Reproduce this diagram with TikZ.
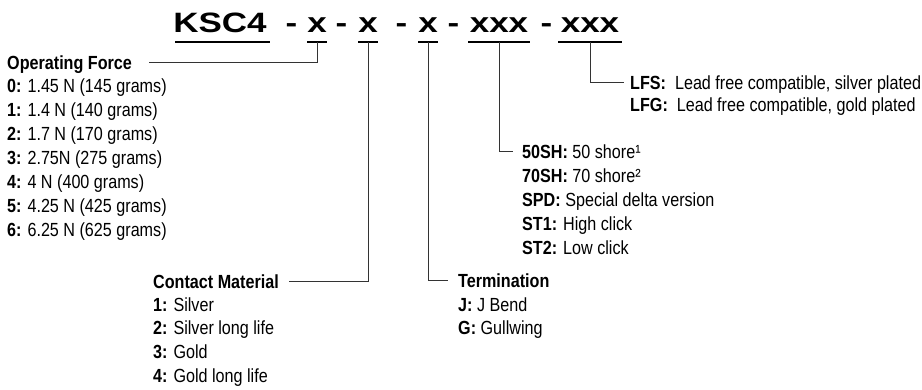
\documentclass[tikz,border=0pt]{standalone}
\usepackage{fontspec}
\setmainfont{Liberation Sans}[FakeStretch=0.85]
\newfontfamily\titlefont{Liberation Sans}[FakeStretch=1.25]
\begin{document}
\begin{tikzpicture}[x=1pt,y=-1pt]
\tikzset{
  lbl/.style={anchor=base west, inner sep=0pt, text height=13.6pt, text depth=0pt, font=\fontsize{19}{22}\selectfont},
  ttl/.style={anchor=base, inner sep=0pt, font=\titlefont\bfseries\fontsize{28}{30}\selectfont},
  conn/.style={line width=0.8pt, draw=black!80},
  uline/.style={line width=1.3pt}
}
\useasboundingbox (0,0) rectangle (922,390);
% title
\node[ttl] (tk) at (220,33) {KSC4};
\node[ttl] (d1) at (291.5,33) {-};
\node[ttl] (tx1) at (317,33) {x};
\node[ttl] (d2) at (341.5,33) {-};
\node[ttl] (tx2) at (368,33) {x};
\node[ttl] (d3) at (401.5,33) {-};
\node[ttl] (tx3) at (428,33) {x};
\node[ttl] (d4) at (453.5,33) {-};
\node[ttl] (txa) at (499,33) {xxx};
\node[ttl] (d5) at (546.5,33) {-};
\node[ttl] (txb) at (590,33) {xxx};
% underlines
\draw[uline] ([xshift=-45pt,yshift=-9pt]tk.base) -- ([xshift=50pt,yshift=-9pt]tk.base);
\draw[uline] ([xshift=-10pt,yshift=-9pt]tx1.base) -- ([xshift=10pt,yshift=-9pt]tx1.base);
\draw[uline] ([xshift=-10pt,yshift=-9pt]tx2.base) -- ([xshift=10pt,yshift=-9pt]tx2.base);
\draw[uline] ([xshift=-10pt,yshift=-9pt]tx3.base) -- ([xshift=10pt,yshift=-9pt]tx3.base);
\draw[uline] ([xshift=-31pt,yshift=-9pt]txa.base) -- ([xshift=31pt,yshift=-9pt]txa.base);
\draw[uline] ([xshift=-32pt,yshift=-9pt]txb.base) -- ([xshift=32pt,yshift=-9pt]txb.base);
% Operating force
\node[lbl] (of) at (7,69.5) {\textbf{Operating Force}};
\node[lbl] (of0) at (7,92.5) {\textbf{0:} 1.45 N (145 grams)};
\node[lbl] (of1) at (7,116.5) {\textbf{1:} 1.4 N (140 grams)};
\node[lbl] (of2) at (7,140.5) {\textbf{2:} 1.7 N (170 grams)};
\node[lbl] (of3) at (7,164.5) {\textbf{3:} 2.75N (275 grams)};
\node[lbl] (of4) at (7,188.5) {\textbf{4:} 4 N (400 grams)};
\node[lbl] (of5) at (7,212.5) {\textbf{5:} 4.25 N (425 grams)};
\node[lbl] (of6) at (7,236.5) {\textbf{6:} 6.25 N (625 grams)};
% Contact material
\node[lbl] (cm) at (153,288.5) {\textbf{Contact Material}};
\node[lbl] (cm1) at (153,311.5) {\textbf{1:} Silver};
\node[lbl] (cm2) at (153,335) {\textbf{2:} Silver long life};
\node[lbl] (cm3) at (153,358.5) {\textbf{3:} Gold};
\node[lbl] (cm4) at (153,382) {\textbf{4:} Gold long life};
% Termination
\node[lbl] (tm) at (458,287.5) {\textbf{Termination}};
\node[lbl] (tmj) at (458,311.5) {\textbf{J:} J Bend};
\node[lbl] (tmg) at (458,334.5) {\textbf{G:} Gullwing};
% shore etc
\node[lbl] (sh1) at (522,158.5) {\textbf{50SH:} 50 shore¹};
\node[lbl] (sh2) at (522,182.5) {\textbf{70SH:} 70 shore²};
\node[lbl] (sh3) at (522,206.5) {\textbf{SPD:} Special delta version};
\node[lbl] (sh4) at (522,230.5) {\textbf{ST1:} High click};
\node[lbl] (sh5) at (522,254.5) {\textbf{ST2:} Low click};
% lead free
\node[lbl] (lfs) at (630,89.5) {\textbf{LFS:}\ \ Lead free compatible, silver plated};
\node[lbl] (lfg) at (630,112) {\textbf{LFG:}\ \ Lead free compatible, gold plated};
% connectors
\draw[conn] ([yshift=-9pt]tx1.base) |- ([xshift=17pt]of.east);
\draw[conn] ([yshift=-9pt]tx2.base) |- ([xshift=10pt]cm.east);
\draw[conn] ([yshift=-9pt]tx3.base) |- ([xshift=-10pt]tm.west);
\draw[conn] ([yshift=-9pt]txa.base) |- ([xshift=-9pt]sh1.west);
\draw[conn] ([yshift=-9pt]txb.base) |- ([xshift=-6pt]lfs.west);
\end{tikzpicture}
\end{document}
